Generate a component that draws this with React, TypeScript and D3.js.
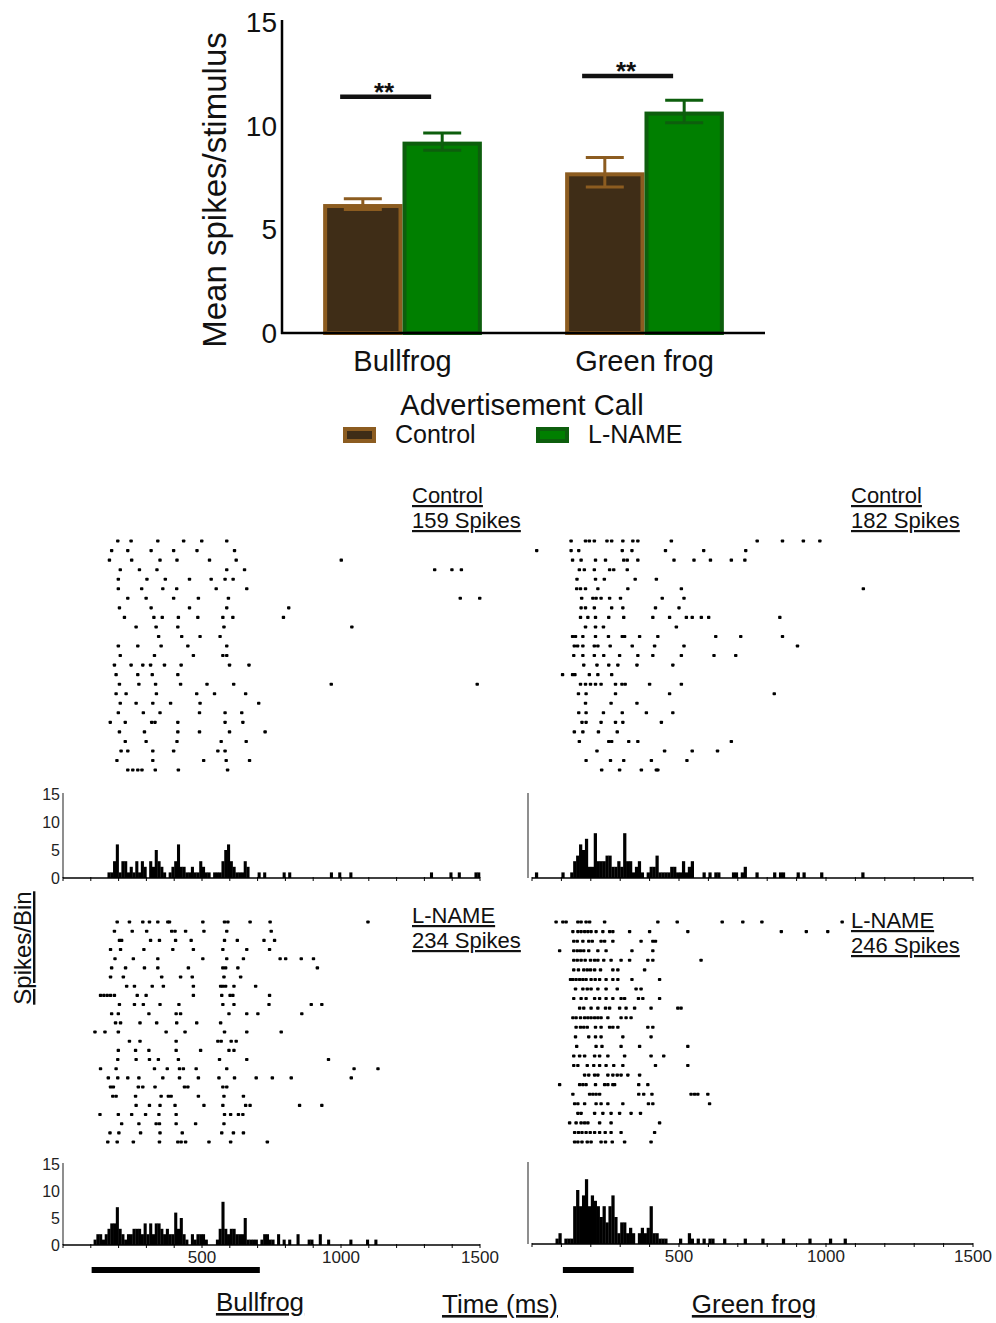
import React from 'react'
import * as d3 from 'd3'

const font = '"Liberation Sans", Arial, Helvetica, sans-serif'

/* bar chart data */
const calls = ['Bullfrog', 'Green frog']
const treatments = ['Control', 'L-NAME']
const controlMeans = [6.22, 7.75]
const controlErrs = [0.26, 0.71]
const lnameMeans = [9.23, 10.68]
const lnameErrs = [0.42, 0.54]
const sigLevels = [11.4, 12.4]
const barTicks = [0, 5, 10, 15]

/* colours */
const fills = ['#3f2d17', '#007f00']
const strokes = ['#8c5c20', '#0d5e0d']

/* spike times (ms) per trial */
const bfControl = [
  [197, 245, 341, 434, 499, 589],
  [175, 233, 317, 398, 482, 617],
  [167, 247, 349, 410, 527, 623, 1001],
  [206, 275, 338, 589, 653, 1337, 1399, 1433],
  [199, 302, 368, 455, 533, 583, 612],
  [199, 283, 359, 409, 551, 661],
  [233, 299, 398, 487, 595, 1429, 1499],
  [203, 317, 455, 589, 812],
  [221, 327, 357, 415, 485, 575, 611, 793],
  [263, 335, 413, 579, 1039],
  [344, 427, 493, 565],
  [199, 269, 353, 449, 589],
  [206, 329, 469, 575, 589],
  [185, 245, 287, 315, 365, 425, 599, 669],
  [191, 269, 321, 413],
  [203, 273, 333, 423, 518, 614, 965, 1490],
  [191, 227, 336, 481, 545, 657],
  [206, 263, 323, 387, 493, 704],
  [199, 289, 349, 491, 583, 643],
  [170, 224, 319, 331, 413, 583, 647],
  [203, 293, 413, 491, 599, 727],
  [224, 299, 410, 569, 659],
  [209, 233, 323, 398, 557, 583],
  [194, 323, 506, 587, 671],
  [233, 251, 269, 284, 332, 415, 592],
]

const gfControl = [
  [133, 182, 195, 212, 255, 271, 309, 343, 360, 474, 766, 852, 923, 979],
  [16, 133, 159, 307, 340, 454, 584, 727],
  [138, 167, 216, 250, 312, 324, 360, 483, 551, 607, 678, 724],
  [161, 178, 212, 264, 278, 324],
  [153, 216, 246, 351, 423],
  [152, 165, 182, 224, 326, 508, 1127],
  [169, 207, 218, 235, 264, 301, 443, 517],
  [167, 182, 212, 271, 309, 420, 500],
  [165, 190, 216, 261, 312, 411, 468, 525, 545, 576, 601, 843],
  [182, 216, 243, 491],
  [138, 148, 173, 216, 260, 307, 315, 366, 428, 625, 710, 852],
  [144, 155, 173, 212, 224, 266, 341, 417, 517, 903],
  [142, 173, 212, 244, 298, 360, 411, 508, 619, 693],
  [176, 221, 261, 292, 357, 479],
  [104, 138, 146, 195, 224, 271],
  [165, 182, 199, 216, 235, 284, 306, 317, 400, 508],
  [158, 184, 284, 468, 824],
  [182, 269, 357],
  [159, 184, 243, 307, 389, 479],
  [170, 184, 235, 284, 309, 440],
  [144, 173, 226, 290],
  [161, 261, 271, 329, 360, 678],
  [221, 451, 545, 631],
  [184, 267, 312, 406, 527],
  [237, 298, 372, 423, 428],
]

const bfLname = [
  [195, 239, 287, 311, 341, 377, 383, 503, 581, 593, 673, 745, 1097],
  [185, 249, 301, 391, 403, 441, 507, 589, 749],
  [203, 211, 315, 347, 405, 461, 581, 627, 723, 761],
  [171, 207, 291, 395, 469, 575, 661, 743],
  [187, 253, 341, 503, 589, 649, 781, 801, 857, 901],
  [175, 225, 293, 341, 451, 575, 585, 629, 915],
  [171, 217, 355, 423, 465, 579, 639],
  [229, 257, 321, 361, 469, 567, 575, 585, 615, 693],
  [135, 147, 159, 171, 185, 267, 299, 469, 571, 601, 611, 743],
  [203, 257, 289, 349, 417, 575, 615, 741, 893, 931],
  [175, 199, 309, 407, 423, 597, 661, 701, 859],
  [189, 207, 277, 337, 409, 481, 567],
  [115, 151, 199, 371, 439, 581, 661, 785],
  [239, 277, 407, 557, 569, 605, 623],
  [199, 261, 309, 407, 495, 597, 615],
  [197, 263, 311, 343, 415, 563, 661, 955],
  [135, 191, 329, 375, 419, 433, 479, 589, 1047, 1133],
  [163, 197, 233, 273, 359, 419, 487, 561, 617, 695, 753, 821, 1037],
  [171, 181, 271, 287, 331, 437, 449, 575, 589],
  [179, 191, 261, 353, 379, 389, 487, 579, 649],
  [263, 311, 349, 403, 507, 575, 657, 673, 851, 931],
  [133, 199, 247, 297, 345, 407, 581, 603, 631, 647],
  [211, 273, 335, 347, 407, 477, 579],
  [169, 201, 279, 349, 429, 571, 613, 649],
  [161, 195, 253, 347, 413, 425, 441, 525, 603, 735],
]

const gfLname = [
  [82, 105, 116, 156, 167, 184, 196, 247, 428, 494, 647, 717, 782, 1055],
  [139, 156, 167, 179, 190, 201, 218, 241, 264, 275, 332, 400, 530, 848, 933, 1006],
  [142, 154, 173, 193, 205, 235, 247, 275, 371, 411, 420],
  [94, 142, 154, 165, 176, 193, 224, 252, 340, 411],
  [142, 154, 167, 181, 199, 213, 224, 244, 269, 303, 332, 394, 411, 575],
  [142, 158, 176, 188, 199, 213, 233, 275, 292, 383],
  [131, 139, 150, 162, 173, 184, 201, 215, 230, 252, 275, 292, 340, 434],
  [148, 173, 188, 201, 224, 252, 290, 354, 371],
  [142, 167, 184, 213, 230, 252, 275, 303, 315, 362, 377, 434],
  [162, 176, 201, 224, 250, 264, 298, 320, 349, 405, 496, 507],
  [139, 150, 165, 179, 190, 201, 213, 224, 235, 258, 303, 320, 337],
  [150, 165, 176, 188, 216, 235, 264, 275, 292, 394, 411],
  [148, 193, 216, 235, 309, 405],
  [152, 218, 238, 303, 366, 530],
  [142, 162, 179, 213, 230, 258, 315, 405, 448],
  [142, 156, 188, 210, 230, 252, 278, 309, 420, 530],
  [179, 193, 213, 224, 258, 275, 290, 303, 326, 366],
  [94, 162, 173, 184, 216, 247, 258, 275, 281, 363, 394],
  [139, 196, 207, 218, 230, 363, 380, 408, 541, 553, 564, 598],
  [145, 156, 179, 218, 235, 258, 309, 396, 411, 604],
  [156, 167, 213, 241, 269, 298, 337, 369],
  [128, 150, 167, 179, 190, 230, 269, 434],
  [145, 158, 170, 184, 198, 213, 230, 249, 269, 303, 417],
  [145, 156, 170, 188, 201, 235, 250, 273, 315, 405],
]

/* histograms: [bin start (ms), spikes per 10 ms bin] */
const bfControlPsth = [
  [160, 1], [170, 1], [180, 3], [190, 6], [200, 1], [210, 3], [220, 3], [230, 1], [240, 2],
  [250, 1], [260, 3], [270, 1], [280, 3], [290, 2], [310, 3], [320, 2], [330, 5], [340, 3],
  [350, 2], [360, 1], [380, 1], [390, 2], [400, 3], [410, 6], [420, 2], [430, 2], [440, 1],
  [450, 1], [460, 2], [470, 1], [480, 1], [490, 3], [500, 2], [510, 1], [520, 1], [540, 1],
  [550, 1], [560, 1], [570, 3], [580, 5], [590, 6], [600, 3], [610, 2], [620, 1], [630, 1],
  [640, 1], [650, 3], [660, 2], [700, 1], [720, 1], [790, 1], [810, 1], [960, 1], [990, 1],
  [1030, 1], [1320, 1], [1390, 1], [1420, 1], [1480, 1], [1490, 1],
]

const gfControlPsth = [
  [10, 1], [100, 1], [130, 1], [140, 3], [150, 4], [160, 6], [170, 5], [180, 7], [190, 2],
  [200, 2], [210, 8], [220, 3], [230, 3], [240, 3], [250, 4], [260, 4], [270, 2], [280, 2],
  [290, 3], [300, 2], [310, 8], [320, 3], [330, 3], [340, 1], [350, 2], [360, 3], [370, 1],
  [390, 1], [400, 2], [410, 2], [420, 4], [430, 1], [440, 1], [450, 1], [460, 1], [470, 2],
  [480, 2], [490, 1], [500, 1], [510, 3], [520, 1], [530, 2], [540, 3], [580, 1], [600, 1],
  [620, 1], [630, 1], [680, 1], [690, 1], [710, 1], [720, 2], [760, 1], [820, 1], [840, 1],
  [850, 1], [900, 1], [920, 1], [980, 1], [1120, 1],
]

const bfLnamePsth = [
  [110, 1], [120, 2], [130, 2], [140, 1], [150, 2], [160, 3], [170, 4], [180, 4], [190, 7],
  [200, 3], [210, 2], [220, 1], [230, 2], [240, 2], [250, 3], [260, 3], [270, 3], [280, 2],
  [290, 4], [300, 2], [310, 4], [320, 2], [330, 4], [340, 4], [350, 3], [360, 2], [370, 3],
  [380, 2], [390, 2], [400, 6], [410, 3], [420, 5], [430, 2], [440, 1], [460, 2], [470, 1],
  [480, 2], [490, 2], [500, 2], [510, 1], [550, 1], [560, 3], [570, 8], [580, 3], [590, 2],
  [600, 3], [610, 3], [620, 2], [630, 2], [640, 2], [650, 5], [660, 1], [670, 1], [680, 1],
  [690, 1], [710, 1], [720, 2], [730, 2], [740, 1], [750, 1], [770, 2], [790, 1], [810, 1],
  [840, 2], [880, 1], [890, 1], [920, 2], [950, 1], [1030, 1], [1090, 1], [1120, 1],
]

const gfLnamePsth = [
  [80, 1], [90, 2], [110, 1], [120, 1], [130, 1], [140, 7], [150, 10], [160, 7], [170, 9],
  [180, 12], [190, 7], [200, 9], [210, 8], [220, 7], [230, 5], [240, 7], [250, 4], [260, 7],
  [270, 9], [280, 5], [290, 2], [300, 4], [310, 4], [320, 2], [330, 3], [340, 2], [360, 2],
  [370, 3], [380, 2], [390, 3], [400, 7], [410, 2], [420, 2], [430, 1], [440, 1], [450, 1],
  [500, 1], [530, 2], [540, 1], [560, 1], [580, 1], [600, 1], [610, 1], [650, 1], [720, 1],
  [780, 1], [850, 1], [940, 1], [1010, 1], [1060, 1],
]

const histTicks = [0, 5, 10, 15]
const timeLabels = [500, 1000, 1500]
const bfStimulus = [103, 708]
const gfStimulus = [105, 346]
const binWidth = 10
const maxTime = 1500

const panels = [
  { spikes: bfControl, psth: bfControlPsth, xr: [63, 480], rasterY: [541, 770], histY: [878, 794], axisX: 63,
    title: ['Control', '159 Spikes'], tx: 412, ty: 503, yLabels: true, xLabels: false, stim: null },
  { spikes: gfControl, psth: gfControlPsth, xr: [532, 973], rasterY: [541, 770], histY: [878, 794], axisX: 528,
    title: ['Control', '182 Spikes'], tx: 851, ty: 503, yLabels: false, xLabels: false, stim: null },
  { spikes: bfLname, psth: bfLnamePsth, xr: [63, 480], rasterY: [922, 1142], histY: [1245, 1164], axisX: 63,
    title: ['L-NAME', '234 Spikes'], tx: 412, ty: 923, yLabels: true, xLabels: true, stim: bfStimulus },
  { spikes: gfLname, psth: gfLnamePsth, xr: [532, 973], rasterY: [922, 1142], histY: [1244, 1163], axisX: 528,
    title: ['L-NAME', '246 Spikes'], tx: 851, ty: 928, yLabels: false, xLabels: true, stim: gfStimulus },
]

function BarChart() {
  const y = d3.scaleLinear().domain([0, 15]).range([333, 22])
  const x0 = d3.scaleBand().domain(calls).range([282, 765]).paddingInner(0.344).paddingOuter(0.17)
  const x1 = d3.scaleBand().domain(treatments).range([0, x0.bandwidth()])
  const series = [
    { means: controlMeans, errs: controlErrs },
    { means: lnameMeans, errs: lnameErrs },
  ]

  return (
    <g fontFamily={font}>
      {series.map((s, si) =>
        calls.map((c, ci) => {
          const bx = x0(c) + x1(treatments[si])
          const bw = x1.bandwidth()
          const top = y(s.means[ci])
          return (
            <g key={si + '-' + ci}>
              <rect x={bx + 2} y={top + 2} width={bw - 4} height={y(0) - top - 2}
                fill={fills[si]} stroke={strokes[si]} strokeWidth={4} />
              <line x1={bx + bw / 2} x2={bx + bw / 2}
                y1={y(s.means[ci] + s.errs[ci])} y2={y(s.means[ci] - s.errs[ci])}
                stroke={strokes[si]} strokeWidth={3} />
              {[1, -1].map(k => (
                <line key={k} x1={bx + bw / 2 - 19} x2={bx + bw / 2 + 19}
                  y1={y(s.means[ci] + k * s.errs[ci])} y2={y(s.means[ci] + k * s.errs[ci])}
                  stroke={strokes[si]} strokeWidth={3} />
              ))}
            </g>
          )
        })
      )}

      {/* significance */}
      {calls.map((c, ci) => (
        <g key={'sig' + ci}>
          <line x1={x0(c) + 17} x2={x0(c) + 108} y1={y(sigLevels[ci])} y2={y(sigLevels[ci])}
            stroke='#111' strokeWidth={4.5} />
          <text x={x0(c) + 61} y={y(sigLevels[ci]) + 4} textAnchor='middle'
            fontSize={26} fontWeight='bold' fill='#111'>**</text>
        </g>
      ))}

      {/* axes */}
      <line x1={282} x2={282} y1={20} y2={334} stroke='#000' strokeWidth={2.5} />
      <line x1={281} x2={765} y1={333} y2={333} stroke='#000' strokeWidth={2.5} />
      {barTicks.map(t => (
        <text key={t} x={277} y={y(t)} dy='0.36em' textAnchor='end' fontSize={28} fill='#111'>{t}</text>
      ))}
      {calls.map(c => (
        <text key={c} x={x0(c) + x0.bandwidth() / 2} y={371} textAnchor='middle' fontSize={29} fill='#111'>{c}</text>
      ))}
      <text x={522} y={415} textAnchor='middle' fontSize={29} fill='#111'>Advertisement Call</text>
      <text transform='translate(226,190) rotate(-90)' textAnchor='middle' fontSize={33} fill='#111'>
        Mean spikes/stimulus
      </text>

      {/* legend */}
      {treatments.map((t, i) => (
        <g key={t} transform={'translate(' + (343 + i * 193) + ',427)'}>
          <rect x={2} y={2} width={29} height={12} fill={fills[i]} stroke={strokes[i]} strokeWidth={4} />
          <text x={52} y={16} fontSize={25} fill='#111'>{t}</text>
        </g>
      ))}
    </g>
  )
}

function SpikePanel({ p }) {
  const x = d3.scaleLinear().domain([0, maxTime]).range(p.xr)
  const yh = d3.scaleLinear().domain([0, 15]).range(p.histY)
  const rows = d3.scalePoint().domain(d3.range(p.spikes.length)).range(p.rasterY)
  const ticks = d3.range(0, maxTime + 1, 100)

  return (
    <g fontFamily={font}>
      {/* raster */}
      {p.spikes.map((trial, ti) =>
        trial.map((t, k) => (
          <rect key={ti + '-' + k} x={x(t) - 1.7} y={rows(ti) - 1.5} width={3.4} height={3.1} rx={0.8} fill='#000' />
        ))
      )}

      <text x={p.tx} y={p.ty} fontSize={22} fill='#111' style={{ textDecoration: 'underline' }}>{p.title[0]}</text>
      <text x={p.tx} y={p.ty + 25} fontSize={22} fill='#111' style={{ textDecoration: 'underline' }}>{p.title[1]}</text>

      {/* histogram */}
      {p.psth.map(([t0, n], i) => (
        <rect key={'b' + i} x={x(t0)} width={x(t0 + binWidth) - x(t0) + 0.3}
          y={yh(n)} height={yh(0) - yh(n)} fill='#000' />
      ))}
      <line x1={p.axisX} x2={p.axisX} y1={yh(15) - 1} y2={yh(0)} stroke='#444' strokeWidth={1.2} />
      <line x1={x(0)} x2={x(maxTime)} y1={yh(0)} y2={yh(0)} stroke='#000' strokeWidth={1.3} />
      {ticks.map(t => (
        <line key={'t' + t} x1={x(t)} x2={x(t)} y1={yh(0) - 1} y2={yh(0) + 3} stroke='#000' strokeWidth={1} />
      ))}
      {p.yLabels && histTicks.map(t => (
        <text key={'y' + t} x={p.axisX - 3} y={yh(t)} dy='0.36em' textAnchor='end' fontSize={16} fill='#222'>{t}</text>
      ))}
      {p.xLabels && timeLabels.map(t => (
        <text key={'x' + t} x={x(t)} y={yh(0) + 18} textAnchor='middle' fontSize={17} fill='#222'>{t}</text>
      ))}
      {p.stim && (
        <rect x={x(p.stim[0])} y={1267} width={x(p.stim[1]) - x(p.stim[0])} height={6} fill='#000' />
      )}
    </g>
  )
}

export default function App() {
  const under = { textDecoration: 'underline' }
  return (
    <svg width={996} height={1323} style={{ display: 'block', position: 'absolute', left: 0, top: 0, background: '#fff' }}>
      <rect width={996} height={1323} fill='#fff' />
      <BarChart />
      {panels.map((p, i) => <SpikePanel key={i} p={p} />)}

      <g fontFamily={font} fill='#111' fontSize={26}>
        <text transform='translate(31,948) rotate(-90)' textAnchor='middle' fontSize={24} style={under}>Spikes/Bin</text>
        <text x={260} y={1311} textAnchor='middle' style={under}>Bullfrog</text>
        <text x={500} y={1313} textAnchor='middle' style={under}>Time (ms)</text>
        <text x={754} y={1313} textAnchor='middle' style={under}>Green frog</text>
      </g>
    </svg>
  )
}
